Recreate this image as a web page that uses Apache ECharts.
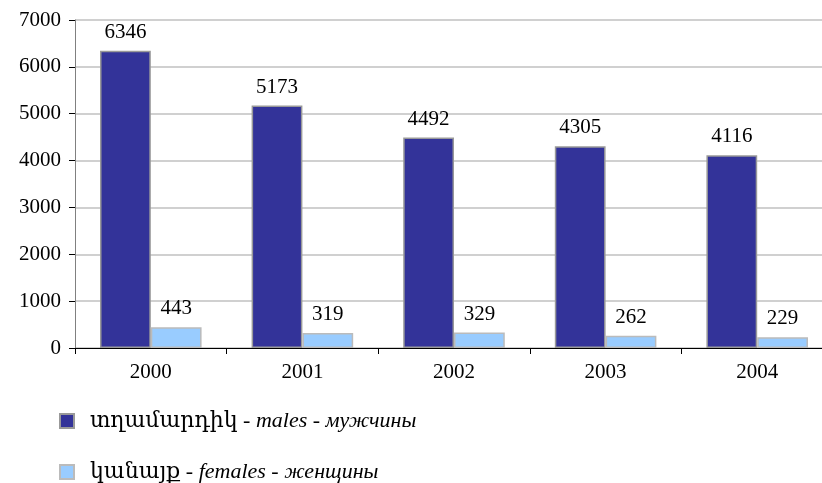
<!DOCTYPE html>
<html><head><meta charset="utf-8">
<script src="https://cdn.jsdelivr.net/npm/echarts@6/dist/echarts.min.js"></script>
<style>html,body{margin:0;padding:0;background:#fff;overflow:hidden}#c{width:833px;height:483px}</style>
</head><body><div id="c"></div>
<script>
const categories = ['2000','2001','2002','2003','2004'];
const males = [6346, 5173, 4492, 4305, 4116];
const females = [443, 319, 329, 262, 229];
const yTicks = [0, 1000, 2000, 3000, 4000, 5000, 6000, 7000];
const nameMales = 'տղամարդիկ';
const nameFemales = 'կանայք';
const enMales = 'males', ruMales = 'мужчины';
const enFemales = 'females', ruFemales = 'женщины';

const serif = '"Liberation Serif","DejaVu Serif",serif';
const chart = echarts.init(document.getElementById('c'));
const lbl = {show:true, position:'top', distance:8, color:'#000', fontFamily:serif, fontSize:21};
function legendFmt(n){
  if(n===nameMales) return '{a|'+nameMales+' - }{b|'+enMales+'}{a| - }{b|'+ruMales+'}';
  return '{a|'+nameFemales+' - }{b|'+enFemales+'}{a| - }{b|'+ruFemales+'}';
}
const legendText = {
  padding:[0,0,0,11],
  rich:{
    a:{fontFamily:serif, fontSize:22, lineHeight:26, color:'#000'},
    b:{fontFamily:serif, fontSize:22, lineHeight:26, fontStyle:'italic', color:'#000'}
  }
};
chart.setOption({
  animation:false,
  grid:{left:75, top:20, bottom:135, right:0, containLabel:false},
  legend:[
    {orient:'horizontal', left:54, top:405, itemWidth:14, itemHeight:14, icon:'rect',
     data:[nameMales], formatter:legendFmt, textStyle:legendText},
    {orient:'horizontal', left:54, top:456, itemWidth:14, itemHeight:14, icon:'rect',
     data:[nameFemales], formatter:legendFmt, textStyle:legendText}
  ],
  xAxis:{
    type:'category', data:categories,
    axisLine:{lineStyle:{color:'#000', width:1}},
    axisTick:{show:true, alignWithLabel:false, length:6, lineStyle:{color:'#000'}},
    axisLabel:{color:'#000', fontFamily:serif, fontSize:21, margin:14}
  },
  yAxis:{
    type:'value', min:yTicks[0], max:yTicks[yTicks.length-1], interval:1000,
    axisLine:{show:true, lineStyle:{color:'#808080'}},
    axisTick:{show:true, inside:false, length:6, lineStyle:{color:'#000'}},
    axisLabel:{color:'#000', fontFamily:serif, fontSize:21, margin:14, formatter:function(v){return String(v);}},
    splitLine:{lineStyle:{color:'#c0c0c0', width:1.5}}
  },
  series:[
    {name:nameMales, type:'bar', data:males, barGap:'0%', barCategoryGap:'33%',
     itemStyle:{color:'#333399', borderColor:'#999', borderWidth:1.5}, label:lbl},
    {name:nameFemales, type:'bar', data:females,
     itemStyle:{color:'#99ccff', borderColor:'#bbb', borderWidth:1.5}, label:lbl}
  ]
});
</script></body></html>
